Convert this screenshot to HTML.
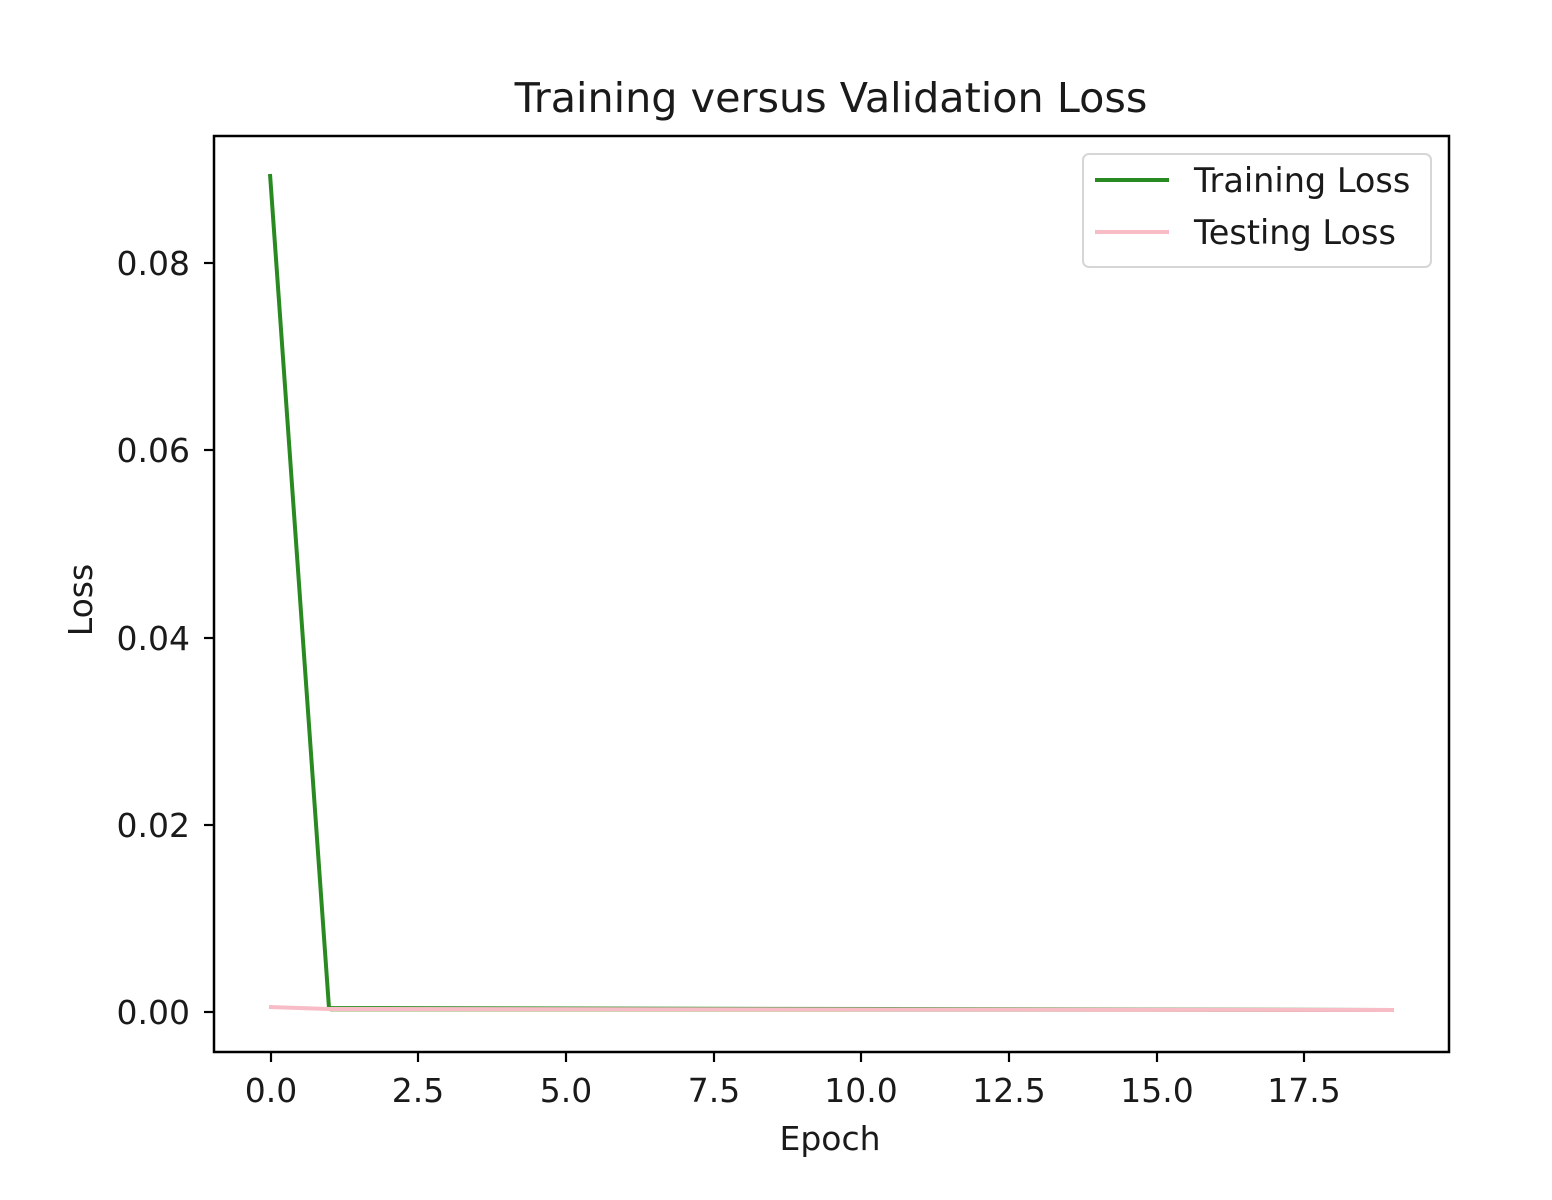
<!DOCTYPE html>
<html><head><meta charset="utf-8"><style>body{margin:0;background:#fff}svg{display:block}</style></head><body>
<svg width="1552" height="1200" xmlns="http://www.w3.org/2000/svg" font-family="DejaVu Sans, Liberation Sans, sans-serif" fill="#1a1a1a">
<rect width="1552" height="1200" fill="#fff"/>
<text x="831" y="112" font-size="41.3" text-anchor="middle" fill="#1a1a1a">Training versus Validation Loss</text>
<polyline points="1394,1010 330,1010" stroke="#c8d8b0" stroke-width="4" fill="none"/>
<polyline points="270,174 329,1008 1394,1010" stroke="#2a8a22" stroke-width="4" fill="none"/>
<polyline points="269,1007 329,1009 1394,1010" stroke="#f7bcc6" stroke-width="4" fill="none"/>
<rect x="214" y="136" width="1235" height="916" fill="none" stroke="#000" stroke-width="2.5"/>
<g stroke="#000" stroke-width="2.2">
<line x1="271" y1="1052" x2="271" y2="1062"/><line x1="418" y1="1052" x2="418" y2="1062"/><line x1="566" y1="1052" x2="566" y2="1062"/><line x1="714" y1="1052" x2="714" y2="1062"/><line x1="861" y1="1052" x2="861" y2="1062"/><line x1="1009" y1="1052" x2="1009" y2="1062"/><line x1="1157" y1="1052" x2="1157" y2="1062"/><line x1="1304" y1="1052" x2="1304" y2="1062"/>
<line x1="204" y1="1012" x2="214" y2="1012"/><line x1="204" y1="825" x2="214" y2="825"/><line x1="204" y1="638" x2="214" y2="638"/><line x1="204" y1="450" x2="214" y2="450"/><line x1="204" y1="263" x2="214" y2="263"/>
</g>
<g font-size="33" text-anchor="middle">
<text x="271" y="1102">0.0</text><text x="418" y="1102">2.5</text><text x="566" y="1102">5.0</text><text x="714" y="1102">7.5</text><text x="861" y="1102">10.0</text><text x="1009" y="1102">12.5</text><text x="1157" y="1102">15.0</text><text x="1304" y="1102">17.5</text>
</g>
<g font-size="33" text-anchor="end">
<text x="190" y="1024">0.00</text><text x="190" y="837">0.02</text><text x="190" y="650">0.04</text><text x="190" y="462">0.06</text><text x="190" y="275">0.08</text>
</g>
<text x="830" y="1150" font-size="33" text-anchor="middle">Epoch</text>
<text transform="translate(92,600) rotate(-90)" font-size="33" text-anchor="middle">Loss</text>
<rect x="1083" y="154" width="348" height="113" rx="6" fill="#fff" stroke="#d6d6d6" stroke-width="2"/>
<line x1="1095" y1="180" x2="1169" y2="180" stroke="#2a8a22" stroke-width="4"/>
<line x1="1095" y1="232" x2="1169" y2="232" stroke="#f7bcc6" stroke-width="4"/>
<text x="1194" y="192" font-size="33.5">Training Loss</text>
<text x="1194" y="244" font-size="33.5">Testing Loss</text>
</svg>
</body></html>
